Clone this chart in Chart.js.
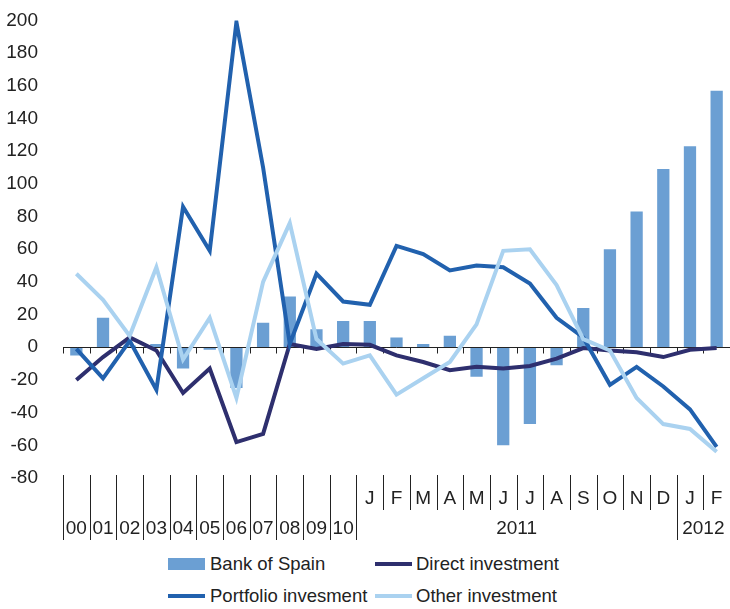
<!DOCTYPE html>
<html>
<head>
<meta charset="utf-8">
<title>Financial account flows</title>
<script src="https://cdn.jsdelivr.net/npm/chart.js@4.4.1/dist/chart.umd.min.js"></script>
<style>
  body { margin: 0; background: #fff; font-family: "Liberation Sans", Arial, sans-serif; }
  #wrap { position: relative; width: 730px; height: 609px; overflow: hidden; }
  #box { position: absolute; left: 0; top: -8px; width: 730px; height: 553px; }
  .leg { position: absolute; font-size: 18.5px; color: #222; line-height: 20px; white-space: nowrap; }
  .sw { position: absolute; width: 37px; }
</style>
</head>
<body>
<div id="wrap">
  <div id="box"><canvas id="chart"></canvas></div>

  <div class="sw" style="left:168px; top:558px; height:12px; background:#6b9fd3;"></div>
  <div class="leg" style="left:210px; top:554px;">Bank of Spain</div>
  <div class="sw" style="left:375px; top:562px; height:4px; background:#2e2f6e;"></div>
  <div class="leg" style="left:416px; top:554px;">Direct investment</div>

  <div class="sw" style="left:168px; top:594px; height:4px; background:#2161ae;"></div>
  <div class="leg" style="left:210px; top:586px;">Portfolio invesment</div>
  <div class="sw" style="left:375px; top:594px; height:4px; background:#aad2f0;"></div>
  <div class="leg" style="left:416px; top:586px;">Other investment</div>
</div>

<script>
  // categories: years 2000-2010, then months of 2011 and 2012
  const yearLabels = ['00', '01', '02', '03', '04', '05', '06', '07', '08', '09', '10'];
  const monthLabels = ['J', 'F', 'M', 'A', 'M', 'J', 'J', 'A', 'S', 'O', 'N', 'D', 'J', 'F'];
  const groupLabels = [
    { text: '2011', from: 11, to: 22 },
    { text: '2012', from: 23, to: 24 }
  ];
  const categories = yearLabels.concat(monthLabels);

  const yTicks = [-80, -60, -40, -20, 0, 20, 40, 60, 80, 100, 120, 140, 160, 180, 200];

  const bankOfSpain = [-5, 18, 1, 2, -13, -1.5, -25, 15, 31, 11, 16, 16,
                       6, 2, 7, -18, -60, -47, -11, 24, 60, 83, 109, 123, 157];
  const directInv = [-20, -6, 6, -2, -28, -13, -58, -53, 2, -1, 2, 1.5,
                     -5, -9, -14, -12, -13, -11.5, -7, -0.5, -2, -3, -6, -1.5, -0.5];
  const portfolioInv = [-1, -19, 4, -26, 86, 59, 199, 110, 2, 45, 28, 26,
                        62, 57, 47, 50, 49, 39, 18, 6, -23, -12, -24, -38, -61];
  const otherInv = [45, 29, 7, 49, -7.5, 18, -31, 40, 76, 5, -10, -5,
                    -29, -19, -9, 14, 59, 60, 38, 5, -2, -31, -47, -50, -64];

  const inkColor = '#222';
  const font = '"Liberation Sans", Arial, sans-serif';

  // zero line with ticks + the two-row category axis below the plot
  const axisPlugin = {
    id: 'axisPlugin',
    afterDatasetDraw(chart, args) {
      if (args.index !== 0) return;
      const ctx = chart.ctx;
      const area = chart.chartArea;
      const y0 = Math.round(chart.scales.y.getPixelForValue(0)) + 0.5;
      const w = (area.right - area.left) / categories.length;
      ctx.save();
      ctx.strokeStyle = inkColor;
      ctx.lineWidth = 1;
      ctx.beginPath();
      ctx.moveTo(area.left, y0);
      ctx.lineTo(area.right, y0);
      for (let i = 0; i <= categories.length; i++) {
        const tx = Math.round(area.left + i * w) + 0.5;
        ctx.moveTo(tx, y0);
        ctx.lineTo(tx, y0 + 6);
      }
      ctx.stroke();
      ctx.restore();
    },
    afterDraw(chart) {
      const ctx = chart.ctx;
      const area = chart.chartArea;
      const x = chart.scales.x;
      const w = (area.right - area.left) / categories.length;
      const top = area.bottom - 3;
      const bottom = area.bottom + 62;
      const monthBottom = area.bottom + 32;
      ctx.save();
      ctx.strokeStyle = inkColor;
      ctx.lineWidth = 1;
      ctx.beginPath();
      for (let i = 0; i < categories.length; i++) {
        const sx = Math.round(area.left + i * w) + 0.5;
        const full = i <= yearLabels.length || i === 23;
        ctx.moveTo(sx, top);
        ctx.lineTo(sx, full ? bottom : monthBottom);
      }
      ctx.stroke();

      ctx.fillStyle = inkColor;
      ctx.font = '19px ' + font;
      ctx.textAlign = 'center';
      ctx.textBaseline = 'middle';
      yearLabels.forEach((t, i) => {
        ctx.fillText(t, x.getPixelForValue(i), area.bottom + 51);
      });
      monthLabels.forEach((t, i) => {
        ctx.fillText(t, x.getPixelForValue(i + yearLabels.length), area.bottom + 21);
      });
      groupLabels.forEach(g => {
        const cx = (x.getPixelForValue(g.from) + x.getPixelForValue(g.to)) / 2;
        ctx.fillText(g.text, cx, area.bottom + 51);
      });
      ctx.restore();
    }
  };

  const lineStyle = {
    type: 'line',
    borderWidth: 4,
    pointRadius: 0,
    tension: 0,
    borderJoinStyle: 'miter'
  };

  new Chart(document.getElementById('chart'), {
    data: {
      labels: categories,
      datasets: [
        {
          type: 'bar',
          label: 'Bank of Spain',
          data: bankOfSpain,
          backgroundColor: '#6b9fd3',
          barPercentage: 0.46,
          categoryPercentage: 1,
          order: 4
        },
        Object.assign({ label: 'Direct investment', data: directInv, borderColor: '#2e2f6e', order: 3 }, lineStyle),
        Object.assign({ label: 'Portfolio invesment', data: portfolioInv, borderColor: '#2161ae', order: 2 }, lineStyle),
        Object.assign({ label: 'Other investment', data: otherInv, borderColor: '#aad2f0', order: 1 }, lineStyle)
      ]
    },
    options: {
      responsive: true,
      maintainAspectRatio: false,
      animation: false,
      layout: { padding: { top: 12, bottom: 67, left: 0, right: 0 } },
      plugins: {
        legend: { display: false },
        tooltip: { enabled: false }
      },
      scales: {
        x: {
          display: false,
          offset: true
        },
        y: {
          min: yTicks[0],
          max: yTicks[yTicks.length - 1],
          afterBuildTicks(scale) {
            scale.ticks = yTicks.map(v => ({ value: v }));
          },
          afterFit(scale) { scale.width = 63; },
          grid: { display: false },
          border: { display: false },
          ticks: {
            color: inkColor,
            padding: 17,
            font: { family: font, size: 19 }
          }
        }
      }
    },
    plugins: [axisPlugin]
  });
</script>
</body>
</html>
